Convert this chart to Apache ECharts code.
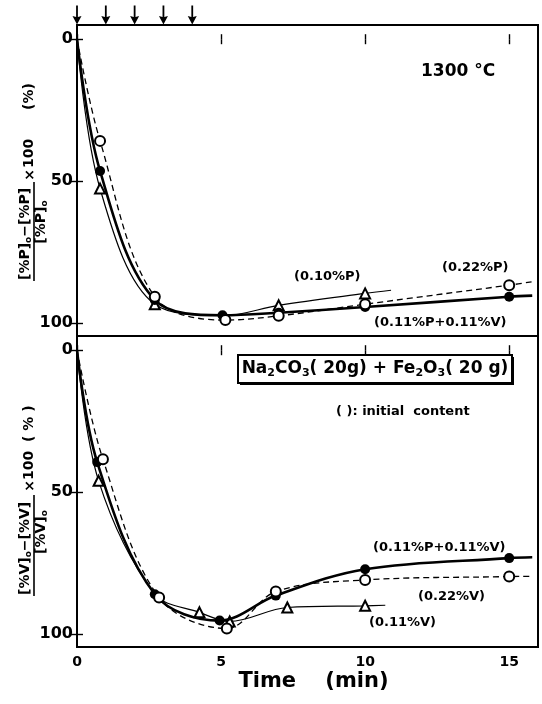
<!DOCTYPE html>
<html>
<head>
<meta charset="utf-8">
<script src="https://cdn.jsdelivr.net/npm/echarts@6/dist/echarts.min.js"></script>
<style>
  html, body { margin: 0; padding: 0; background: #fff; }
  #chart { width: 542px; height: 704px; }
</style>
</head>
<body>
<div id="chart"></div>
<script>
// ---- axes ----
const timeTicks = [0, 5, 10, 15];
const removalTicks = [0, 50, 100];
const additionTimes = [0, 1, 2, 3, 4];   // flux additions (arrows)
const curveStart = [0, 0];

// ---- upper panel: P removal (%) ----
const pMixTime = [0.8, 2.7, 5.05, 7.0, 10, 15];          // (0.11%P+0.11%V)
const pMixVal  = [46.4, 91.8, 97.2, 96.3, 94.3, 90.7];
const pMixEnd  = [15.8, 90.3];
const pHighTime = [0.8, 2.7, 5.15, 7.0, 10, 15];         // (0.22%P)
const pHighVal  = [35.8, 90.7, 98.9, 97.4, 93.3, 86.6];
const pHighEnd  = [15.8, 85.4];
const pLowTime = [0.8, 2.7, 7.0, 10];                    // (0.10%P)
const pLowVal  = [52.6, 93.3, 93.7, 89.5];
const pLowBend = [5.1, 97.3];                            // curve passes under the circles here
const pLowEnd  = [10.9, 88.4];

// ---- lower panel: V removal (%) ----
const vMixTime = [0.7, 2.7, 4.95, 6.9, 10, 15];          // (0.11%P+0.11%V)
const vMixVal  = [39.4, 85.9, 95.2, 86.4, 77.1, 73.2];
const vMixEnd  = [15.8, 72.9];
const vHighTime = [0.9, 2.85, 5.2, 6.9, 10, 15];         // (0.22%V)
const vHighVal  = [38.4, 87.1, 98.0, 85.0, 80.9, 79.7];
const vHighEnd  = [15.8, 79.6];
const vLowTime = [0.75, 4.25, 5.3, 7.3, 10];             // (0.11%V)
const vLowVal  = [46.0, 92.3, 95.5, 90.6, 90.0];
const vLowBend = [2.7, 85.8];
const vLowEnd  = [10.7, 89.8];

const FONT = '"DejaVu Sans", sans-serif';
const INK = '#000';

// curve from the origin through the samples; bend/end points carry no marker
function curve(times, vals, end, bend) {
  const pts = times.map((t, i) => [t, vals[i]]);
  if (bend) pts.push({ value: bend, symbol: 'none' });
  pts.sort((a, b) => (a.value || a)[0] - (b.value || b)[0]);
  return [{ value: curveStart, symbol: 'none' }]
    .concat(pts)
    .concat([{ value: end, symbol: 'none' }]);
}

function lineSeries(grid, data, kind) {
  const base = {
    type: 'line', xAxisIndex: grid * 2, yAxisIndex: grid * 2,
    data: data, smooth: 0.35, silent: true, animation: false,
    symbolSize: 9, showAllSymbol: true
  };
  if (kind === 'filled') {
    return Object.assign(base, {
      z: 4, symbol: 'circle', symbolSize: 10,
      itemStyle: { color: INK },
      lineStyle: { color: INK, width: 2.6 }
    });
  }
  if (kind === 'open') {
    return Object.assign(base, {
      z: 5, symbol: 'emptyCircle', symbolSize: 10,
      itemStyle: { color: INK, borderWidth: 1.6 },
      lineStyle: { color: INK, width: 1.3, type: [6, 4] }
    });
  }
  return Object.assign(base, {
    z: 3, symbol: 'emptyTriangle', symbolSize: 10,
    itemStyle: { color: INK, borderWidth: 1.3 },
    lineStyle: { color: INK, width: 1.2 }
  });
}

const gridBox = { left: 77, width: 461, height: 311, show: true, borderColor: INK, borderWidth: 2 };

function xAx(grid, pos, labels) {
  return {
    type: 'value', gridIndex: grid, position: pos, min: 0, max: 16,
    axisLine: { show: false }, splitLine: { show: false },
    axisTick: { show: true, inside: true, length: 5, customValues: timeTicks, lineStyle: { color: INK, width: 1.4 } },
    axisLabel: labels ? {
      show: true, customValues: timeTicks, margin: 8,
      color: INK, fontSize: 14, fontWeight: 'bold', fontFamily: FONT
    } : { show: false }
  };
}
function yAx(grid, pos, labels) {
  return {
    type: 'value', gridIndex: grid, position: pos, inverse: true, min: -5, max: 104.5,
    axisLine: { show: false }, splitLine: { show: false },
    axisTick: { show: true, inside: true, length: 6, customValues: removalTicks, lineStyle: { color: INK, width: 1.4 } },
    axisLabel: labels ? {
      show: true, customValues: removalTicks, margin: 4,
      color: INK, fontSize: 16, fontWeight: 'bold', fontFamily: FONT
    } : { show: false }
  };
}

const xAxes = [xAx(0, 'bottom', false), xAx(0, 'top', false), xAx(1, 'bottom', true), xAx(1, 'top', false)];
xAxes[2].name = 'Time    (min)';
xAxes[2].nameLocation = 'middle';
xAxes[2].nameGap = 24;
xAxes[2].nameTextStyle = { color: INK, fontSize: 21, fontWeight: 'bold', fontFamily: FONT, padding: [0, 0, 0, 12] };

// y-axis title: ([%X]o - [%X]) / [%X]o x 100 (%), written bottom to top
const richY = {
  a: { fontSize: 14, fontWeight: 'bold', fontFamily: FONT, lineHeight: 16, fill: INK },
  s: { fontSize: 9, fontWeight: 'bold', fontFamily: FONT, lineHeight: 7, verticalAlign: 'bottom', fill: INK }
};
function ratioTitle(sp, baseY, p) {
  const c = '[%' + sp + ']';
  const txt = (x, y, text, size, align) => ({
    type: 'text', x: x, y: y,
    style: { text: text, fill: INK, fontSize: size, fontWeight: 'bold', fontFamily: FONT, align: align || 'left', verticalAlign: 'middle' }
  });
  return {
    type: 'group', x: 0, y: baseY, rotation: Math.PI / 2, silent: true,
    children: [
      { type: 'text', x: 0, y: 25, style: { text: '{a|' + c + '}{s|o}{a|−' + c + '}', rich: richY, align: 'left', verticalAlign: 'middle' } },
      { type: 'line', shape: { x1: -1, y1: 34, x2: p.bar, y2: 34 }, style: { stroke: INK, lineWidth: 1.6 } },
      { type: 'text', x: p.den, y: 41, style: { text: '{a|' + c + '}{s|o}', rich: richY, align: 'center', verticalAlign: 'middle' } },
      txt(p.times, 30, '×', 14, 'center'),
      txt(p.hundred, 29, '100', 14),
      txt(p.pct, 29, p.pctText, 14)
    ]
  };
}

function label(x, y, text, size) {
  return {
    type: 'text', x: x, y: y, silent: true,
    style: { text: text, fill: INK, fontSize: size || 13, fontWeight: 'bold', fontFamily: FONT, align: 'left', verticalAlign: 'middle' }
  };
}

const richBox = {
  t: { fontSize: 17, fontWeight: 'bold', fontFamily: FONT, lineHeight: 20, fill: INK },
  s: { fontSize: 11, fontWeight: 'bold', fontFamily: FONT, lineHeight: 10, verticalAlign: 'bottom', fill: INK }
};

const graphics = [
  ratioTitle('P', 280, { bar: 98, den: 58, times: 105, hundred: 112, pct: 170, pctText: '(%)' }),
  ratioTitle('V', 595, { bar: 100, den: 63, times: 109, hundred: 115, pct: 153, pctText: '( % )' }),
  label(421, 72, '1300 °C', 17),
  label(294, 277, '(0.10%P)'),
  label(442, 268, '(0.22%P)'),
  label(374, 323, '(0.11%P+0.11%V)'),
  label(373, 548, '(0.11%P+0.11%V)'),
  label(418, 597, '(0.22%V)'),
  label(369, 623, '(0.11%V)'),
  label(336, 412, '( ): initial  content'),
  {
    type: 'group', x: 238, y: 355, silent: true,
    children: [
      { type: 'rect', shape: { x: 2, y: 2, width: 274, height: 28 }, style: { fill: INK } },
      { type: 'rect', shape: { x: 0, y: 0, width: 274, height: 28 }, style: { fill: '#fff', stroke: INK, lineWidth: 2 } },
      { type: 'text', x: 137, y: 14, style: {
          text: '{t|Na}{s|2}{t|CO}{s|3}{t|( 20g) + Fe}{s|2}{t|O}{s|3}{t|( 20 g)}',
          rich: richBox, align: 'center', verticalAlign: 'middle' } }
    ]
  }
];

const arrowPath = 'path://M3.2,0 L4.8,0 L4.8,11 L8,10 L4,18 L0,10 L3.2,11 Z';

const option = {
  backgroundColor: '#fff',
  animation: false,
  grid: [Object.assign({ top: 25 }, gridBox), Object.assign({ top: 336 }, gridBox)],
  xAxis: xAxes,
  yAxis: [yAx(0, 'left', true), yAx(0, 'right', false), yAx(1, 'left', true), yAx(1, 'right', false)],
  series: [
    {
      type: 'scatter', xAxisIndex: 0, yAxisIndex: 0, silent: true, clip: false, z: 6,
      data: additionTimes.map(t => [t, -5]),
      symbol: arrowPath, symbolSize: [9, 19], symbolOffset: [0, -10],
      itemStyle: { color: INK, opacity: 1 }
    },
    lineSeries(0, curve(pLowTime, pLowVal, pLowEnd, pLowBend), 'tri'),
    lineSeries(0, curve(pMixTime, pMixVal, pMixEnd), 'filled'),
    lineSeries(0, curve(pHighTime, pHighVal, pHighEnd), 'open'),
    lineSeries(1, curve(vLowTime, vLowVal, vLowEnd, vLowBend), 'tri'),
    lineSeries(1, curve(vMixTime, vMixVal, vMixEnd), 'filled'),
    lineSeries(1, curve(vHighTime, vHighVal, vHighEnd), 'open')
  ],
  graphic: graphics
};

const chart = echarts.init(document.getElementById('chart'), null, { renderer: 'canvas' });
chart.setOption(option);
</script>
</body>
</html>
